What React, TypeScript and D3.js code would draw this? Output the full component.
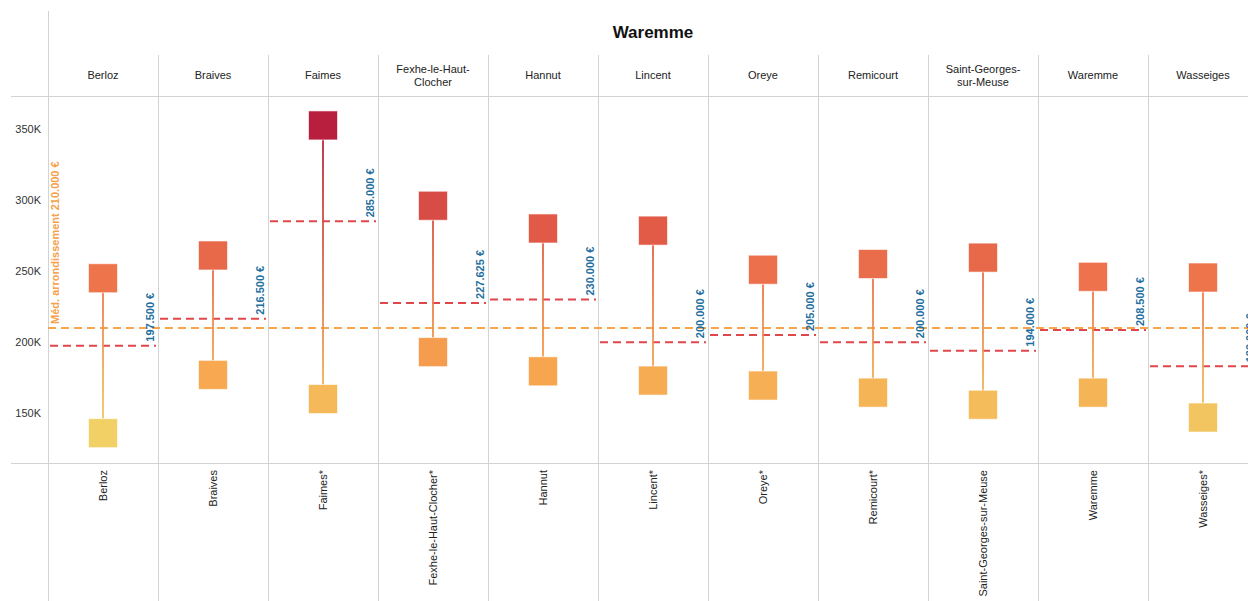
import React from "react";
import * as d3 from "d3";

const communes = [
  "Berloz",
  "Braives",
  "Faimes",
  "Fexhe-le-Haut-Clocher",
  "Hannut",
  "Lincent",
  "Oreye",
  "Remicourt",
  "Saint-Georges-sur-Meuse",
  "Waremme",
  "Wasseiges",
];
const headerLabels = [
  ["Berloz"],
  ["Braives"],
  ["Faimes"],
  ["Fexhe-le-Haut-", "Clocher"],
  ["Hannut"],
  ["Lincent"],
  ["Oreye"],
  ["Remicourt"],
  ["Saint-Georges-", "sur-Meuse"],
  ["Waremme"],
  ["Wasseiges"],
];
const bottomLabels = [
  "Berloz",
  "Braives",
  "Faimes*",
  "Fexhe-le-Haut-Clocher*",
  "Hannut",
  "Lincent*",
  "Oreye*",
  "Remicourt*",
  "Saint-Georges-sur-Meuse",
  "Waremme",
  "Wasseiges*",
];
const highValues = [245000, 261000, 352500, 296000, 280000, 278500, 251000, 255000, 259500, 246000, 245500];
const lowValues = [136000, 177000, 160000, 193000, 179500, 173000, 169500, 164500, 156000, 164500, 147000];
const medians = [197500, 216500, 285000, 227625, 230000, 200000, 205000, 200000, 194000, 208500, 183000];
const overallMedian = 210000;
const yTicks = [150000, 200000, 250000, 300000, 350000];
const title = "Waremme";

const W = 1248;
const H = 601;
const left = 48;
const panelW = 110;
const top = 97;
const bottom = 463;
const sq = 29;
const grid = "#d3d3d3";

const fmtEuro = (v: number) => d3.format(",")(v).replace(/,/g, ".") + " €";

export default function App() {
  const x = d3
    .scaleBand<string>()
    .domain(communes)
    .range([left, left + panelW * communes.length])
    .padding(0);
  const y = d3.scaleLinear().domain([115000, 372500]).range([bottom, top]);
  const color = d3
    .scaleLinear<string>()
    .domain([135000, 178000, 245000, 280000, 300000, 355000])
    .range(["#F2D166", "#F7A74F", "#EE744C", "#E05A47", "#D54A46", "#B71C3E"])
    .interpolate(d3.interpolateRgb);

  const font = "Liberation Sans, Arial, sans-serif";

  return (
    <svg
      width={W}
      height={H}
      style={{ position: "absolute", left: 0, top: 0, background: "#fff" }}
      fontFamily={font}
    >
      <defs>
        {communes.map((c, i) => (
          <linearGradient
            key={c}
            id={`g${i}`}
            gradientUnits="userSpaceOnUse"
            x1={0}
            x2={0}
            y1={y(highValues[i])}
            y2={y(lowValues[i])}
          >
            <stop offset="0%" stopColor={color(highValues[i])} />
            <stop offset="100%" stopColor={color(lowValues[i])} />
          </linearGradient>
        ))}
      </defs>

      {/* title */}
      <text
        x={left + (panelW * communes.length) / 2}
        y={38}
        textAnchor="middle"
        fontSize={17}
        fontWeight="bold"
        fill="#111"
      >
        {title}
      </text>

      {/* grid */}
      <line x1={left + 0.5} x2={left + 0.5} y1={11} y2={H} stroke={grid} />
      {communes.slice(1).map((c) => (
        <line key={c} x1={x(c)! + 0.5} x2={x(c)! + 0.5} y1={55} y2={H} stroke={grid} />
      ))}
      <line x1={11} x2={W} y1={top - 0.5} y2={top - 0.5} stroke={grid} />
      <line x1={11} x2={W} y1={bottom + 0.5} y2={bottom + 0.5} stroke={grid} />

      {/* header labels */}
      {communes.map((c, i) => {
        const cx = x(c)! + panelW / 2;
        const lines = headerLabels[i];
        const y0 = lines.length === 1 ? 79 : 72.5;
        return (
          <text key={c} x={cx} textAnchor="middle" fontSize={11} fill="#222">
            {lines.map((l, j) => (
              <tspan key={j} x={cx} y={y0 + j * 13}>
                {l}
              </tspan>
            ))}
          </text>
        );
      })}

      {/* bottom labels */}
      {communes.map((c, i) => {
        const cx = x(c)! + panelW / 2 + 4;
        return (
          <text
            key={c}
            transform={`translate(${cx},${bottom + 7}) rotate(-90)`}
            textAnchor="end"
            fontSize={11}
            fill="#222"
          >
            {bottomLabels[i]}
          </text>
        );
      })}

      {/* y axis */}
      {yTicks.map((t) => (
        <text key={t} x={41} y={y(t) + 4} textAnchor="end" fontSize={11} fill="#333">
          {d3.format("~s")(t).replace("k", "K")}
        </text>
      ))}

      {/* overall median */}
      <line
        x1={left}
        x2={W}
        y1={y(overallMedian)}
        y2={y(overallMedian)}
        stroke="#F7A44A"
        strokeWidth={2}
        strokeDasharray="8,5"
      />
      <text
        transform={`translate(${left + 11},${y(overallMedian) - 4}) rotate(-90)`}
        fontSize={11}
        fontWeight="bold"
        fill="#F5A04A"
      >
        {"Méd. arrondissement " + fmtEuro(overallMedian)}
      </text>

      {/* panels */}
      {communes.map((c, i) => {
        const x0 = x(c)!;
        const cx = x0 + panelW / 2;
        const ym = y(medians[i]);
        const yh = y(highValues[i]);
        const yl = y(lowValues[i]);
        return (
          <g key={c}>
            <line
              x1={x0 + 2}
              x2={x0 + panelW - 2}
              y1={ym}
              y2={ym}
              stroke="#E0474C"
              strokeWidth={2}
              strokeDasharray="8,5"
            />
            <text
              transform={`translate(${x0 + panelW - 4},${ym - 4}) rotate(-90)`}
              fontSize={11}
              fontWeight="bold"
              fill="#1f6fa0"
            >
              {fmtEuro(medians[i])}
            </text>
            <line
              x1={cx}
              x2={cx + 0.01}
              y1={yh}
              y2={yl}
              stroke={`url(#g${i})`}
              strokeWidth={2}
              opacity={0.9}
            />
            <rect
              x={cx - sq / 2}
              y={yh - sq / 2}
              width={sq}
              height={sq}
              fill={color(highValues[i])}
              stroke="#fff"
              strokeOpacity={0.6}
              strokeWidth={1}
            />
            <rect
              x={cx - sq / 2}
              y={yl - sq / 2}
              width={sq}
              height={sq}
              fill={color(lowValues[i])}
              stroke="#fff"
              strokeOpacity={0.6}
              strokeWidth={1}
            />
          </g>
        );
      })}
    </svg>
  );
}
